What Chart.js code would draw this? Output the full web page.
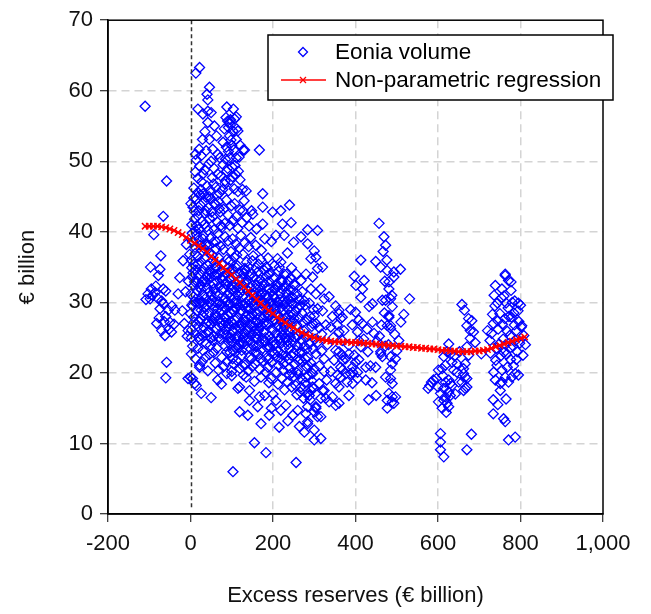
<!DOCTYPE html>
<html><head><meta charset="utf-8">
<script src="https://cdn.jsdelivr.net/npm/chart.js@4"></script>
<style>html,body{margin:0;padding:0;background:#fff}#c{display:block}</style>
</head><body>
<canvas id="c" width="651" height="614"></canvas>
<script>
const xTicks = [-200,0,200,400,600,800,1000];
const yTicks = [0,10,20,30,40,50,60,70];
const seriesNames = ['Eonia volume','Non-parametric regression'];

const leftPoints = [[-110,57.8],[-58,47.2],[-66,42.2],[-89,39.6],[-72,36.6],[-97,35.0],[-74,34.7],[-78,33.8],[-103,31.2],[-86,31.4],[-66,31.9],[-98,30.5],[-30,31.2],[-74,29.1],[-54,28.9],[-38,28.9],[-82,27.0],[-50,27.2],[-70,26.0],[-46,25.8],[-62,25.3],[-58,21.5],[-60,19.3],[-92,31.0],[-80,30.6],[-70,30.2],[-60,31.6],[-108,30.4],[-95,31.9],[-84,32.3],[-66,29.8],[-60,28.0],[-45,29.5],[-76,27.8],[-52,26.2],[-40,26.9],[-64,27.3],[-20,28.8],[-15,27.0],[-8,25.2],[-12,31.5],[-26,33.5],[-5,33.0],[-2,36.8],[-10,38.2],[-18,35.9],[-6,26.0]];

const upperPoints = [[22,63.3],[13,62.5],[46,60.5],[40,59.5],[42,58.7],[18,57.4],[30,56.7],[42,57.1],[50,56.9],[42,55.5],[88,57.7],[104,57.4],[90,55.7],[92,54.8],[103,54.3],[111,53.1],[115,54.3],[131,51.6],[29,53.1],[46,53.1],[63,53.6],[21,51.7],[38,51.5],[54,51.7],[79,52.7],[87,52.0],[95,53.6],[71,50.5],[26,50.8],[95,50.5],[111,50.5],[128,51.6],[167,51.6],[86,56.2],[97,55.9],[98,53.0],[120,52.3],[66,51.0],[12,51.0],[35,54.2],[58,55.0],[82,54.6],[105,51.6],[107,56.0],[111,56.3],[112,54.6],[95,55.5],[100,52.2],[92,51.4],[108,49.4],[116,48.6],[90,49.0],[102,47.8],[84,47.2],[118,50.6]];

const band45 = [[8,46.2],[12,48.5],[18,45.6],[22,49.3],[27,47.1],[31,45.4],[35,48.8],[40,46.5],[44,49.6],[48,45.9],[53,47.7],[57,49.0],[61,46.3],[66,48.2],[70,45.5],[74,47.9],[79,49.5],[83,46.8],[88,48.6],[92,45.8],[97,47.3],[101,49.2],[106,46.1],[110,48.1],[115,45.7],[120,47.4],[126,46.0],[135,45.8],[175,45.4],[14,50.2],[25,46.0],[50,50.0],[85,50.3],[64,45.1],[38,44.9]];

const band40 = [[3,41.0],[6,43.5],[10,41.8],[14,44.6],[17,42.3],[21,40.4],[24,43.8],[28,41.5],[32,44.2],[35,42.6],[39,40.7],[43,43.4],[46,41.9],[50,44.7],[54,42.1],[57,40.3],[61,43.9],[65,41.4],[68,44.3],[72,42.8],[76,40.6],[80,43.2],[83,41.2],[87,44.5],[91,42.4],[95,40.9],[99,43.7],[103,41.6],[107,44.0],[111,42.2],[115,40.5],[120,43.1],[125,41.3],[130,44.4],[136,42.0],[142,40.8],[148,43.0],[127,43.0],[151,42.5],[175,41.1],[175,43.5],[199,42.8],[219,43.0],[240,43.8],[223,41.1],[244,41.3],[284,40.3],[308,40.2],[160,40.4],[1,44.0],[12,40.2]];

const band35 = [[2,36.0],[5,38.6],[8,35.4],[11,37.8],[15,39.6],[18,36.5],[21,38.9],[25,35.8],[28,37.3],[31,39.4],[35,36.2],[38,38.2],[41,35.3],[45,37.0],[48,39.1],[52,36.7],[55,38.5],[59,35.6],[62,37.6],[66,39.8],[69,36.3],[73,38.0],[77,35.5],[80,37.5],[84,39.3],[88,36.1],[91,38.7],[95,35.9],[98,37.2],[102,39.0],[106,36.4],[110,38.3],[114,35.2],[118,37.7],[122,39.5],[127,36.8],[131,38.4],[136,35.7],[141,37.9],[146,39.2],[152,36.6],[158,38.1],[165,35.4],[172,37.4],[180,39.0],[188,36.3],[196,38.6],[207,39.5],[227,39.5],[268,39.3],[284,38.3],[300,37.3],[304,36.4],[292,36.2],[211,36.2],[219,35.7],[203,35.2],[235,37.0],[250,38.5]];

const band30 = [[1,31.2],[4,33.6],[7,30.8],[10,32.9],[13,34.6],[16,31.7],[19,33.9],[22,30.4],[25,32.5],[28,34.3],[31,31.0],[34,33.2],[37,30.6],[40,32.0],[43,34.0],[46,31.5],[49,33.5],[52,30.3],[55,32.7],[58,34.8],[61,31.3],[64,33.0],[67,30.9],[70,32.3],[73,34.4],[76,31.8],[79,33.7],[82,30.5],[85,32.6],[88,34.1],[91,31.1],[94,33.3],[97,30.7],[100,32.4],[103,34.7],[106,31.6],[109,33.8],[112,30.2],[115,32.1],[118,34.2],[121,31.4],[124,33.4],[127,30.8],[130,32.8],[133,34.5],[136,31.9],[139,33.1],[142,30.4],[145,32.2],[148,34.0],[151,31.2],[154,33.6],[157,30.6],[160,32.5],[163,34.3],[166,31.5],[169,33.2],[172,30.3],[175,32.9],[178,34.6],[181,31.0],[184,33.7],[187,30.9],[190,32.0],[193,34.1],[197,31.6],[201,33.4],[205,30.5],[209,32.6],[213,34.4],[217,31.3],[221,33.0],[225,30.2],[229,32.3],[233,34.0],[238,31.8],[243,33.5],[248,30.7],[253,32.4],[258,31.2],[227,34.0],[219,33.1],[251,32.6],[268,33.1],[280,34.0],[296,33.6],[248,31.7],[292,31.9],[304,31.2],[316,31.9],[324,30.5],[320,35.0],[308,34.8],
[3,34.9],[9,30.1],[15,33.0],[21,32.2],[27,30.0],[33,34.9],[39,33.6],[45,30.0],[51,34.1],[57,31.9],[63,34.9],[69,30.1],[75,33.4],[81,31.9],[87,30.1],[93,34.9],[99,31.8],[105,30.0],[111,34.9],[117,33.1],[123,30.0],[129,34.1],[135,33.0],[141,35.0],[147,30.0],[153,31.0],[159,34.9],[165,33.0],[171,31.0],[177,30.0],[183,35.0],[189,34.0],[195,30.1],[203,31.9],[211,30.1],[215,35.0],[223,31.8],[231,30.0],[237,33.0],[245,34.9],[256,34.0],[263,30.4],[271,31.5],[276,30.2]];

const band25 = [[0,28.4],[3,26.1],[6,29.5],[9,27.2],[12,25.5],[15,28.8],[18,26.6],[21,29.9],[24,27.7],[27,25.3],[30,28.1],[33,26.4],[36,29.3],[39,27.0],[42,25.8],[45,28.6],[48,26.9],[51,29.7],[54,27.4],[57,25.2],[60,28.3],[63,26.2],[66,29.1],[69,27.6],[72,25.6],[75,28.9],[78,26.7],[81,29.4],[84,27.1],[87,25.4],[90,28.2],[93,26.5],[96,29.8],[99,27.3],[102,25.9],[105,28.7],[108,26.3],[111,29.2],[114,27.8],[117,25.1],[120,28.5],[123,26.8],[126,29.6],[129,27.5],[132,25.7],[135,28.0],[138,26.0],[141,29.0],[144,27.9],[147,25.3],[150,28.4],[153,26.6],[156,29.5],[159,27.2],[162,25.5],[165,28.8],[168,26.4],[171,29.9],[174,27.7],[177,25.8],[180,28.1],[183,26.9],[186,29.3],[189,27.0],[192,25.2],[195,28.6],[198,26.2],[201,29.7],[204,27.4],[207,25.6],[210,28.3],[213,26.7],[216,29.1],[219,27.6],[222,25.4],[225,28.9],[228,26.5],[231,29.4],[234,27.1],[237,25.9],[240,28.2],[243,26.3],[246,29.8],[249,27.3],[252,25.1],[255,28.7],[258,26.8],[261,29.2],[264,27.8],[267,25.7],[270,28.5],[274,26.0],[278,29.6],[282,27.5],[286,25.3],[290,28.0],[294,26.6],[298,29.0],[308,29.1],[300,28.1],[304,27.0],[312,26.4],[318,25.5],
[2,25.0],[8,27.9],[14,26.9],[20,25.1],[26,28.9],[32,29.9],[38,25.6],[44,27.3],[50,25.0],[56,29.0],[62,27.9],[68,25.0],[74,27.2],[80,25.5],[86,29.1],[92,27.0],[98,25.0],[104,26.9],[110,25.1],[116,29.5],[122,27.1],[128,25.0],[134,29.9],[140,26.2],[146,29.1],[152,27.2],[158,25.1],[164,26.0],[170,28.0],[176,29.1],[182,25.0],[188,28.1],[194,29.9],[200,26.0],[206,28.9],[212,29.9],[218,25.0],[224,27.0],[230,25.1],[236,29.1],[242,25.1],[248,28.2],[254,29.9],[260,25.2],[266,29.6],[272,27.1],[280,25.0],[288,29.9],[296,27.0]];

const band20 = [[22,24.7],[30,23.2],[38,24.1],[46,22.6],[54,24.6],[60,21.4],[64,23.5],[68,20.4],[72,24.8],[76,22.2],[80,20.9],[84,23.8],[88,21.6],[92,24.4],[96,22.9],[100,20.2],[104,23.1],[108,24.9],[112,21.8],[116,23.6],[120,20.6],[124,22.4],[128,24.2],[132,21.1],[136,23.4],[140,20.3],[144,24.6],[148,22.0],[152,23.9],[156,21.3],[160,24.8],[164,22.7],[168,20.5],[172,23.3],[176,21.7],[180,24.3],[184,22.1],[188,20.8],[192,23.7],[196,21.5],[200,24.5],[204,22.8],[208,20.1],[212,23.0],[216,24.7],[220,21.9],[224,20.4],[228,23.6],[232,22.3],[236,24.0],[240,20.7],[244,22.5],[248,24.4],[252,21.2],[256,23.2],[260,20.3],[264,22.9],[268,24.6],[272,21.6],[276,23.8],[280,20.9],[284,22.2],[288,24.1],[292,21.4],[296,23.4],[300,20.6],[304,22.7],[308,24.3],[312,21.0],[318,23.1],[324,20.2],
[94,25.0],[102,22.0],[110,23.6],[118,24.0],[126,21.0],[134,24.9],[142,22.2],[150,20.9],[158,23.0],[166,24.0],[174,24.9],[182,20.1],[190,22.0],[198,23.0],[206,24.1],[214,21.0],[222,22.6],[230,24.8],[238,21.9],[246,20.0],[254,25.0],[262,21.7],[270,23.0],[278,22.0],[286,21.0],[294,20.0],[302,24.8]];

const coreExtra = [[62,30.0],[70,26.6],[78,33.1],[86,27.8],[94,31.4],[102,29.0],[110,32.7],[118,26.5],[126,31.7],[134,27.4],[142,33.8],[150,29.6],[158,32.0],[166,27.1],[174,31.3],[182,29.8],[190,33.0],[198,27.9],[206,31.9],[214,28.0],[222,32.9],[230,27.8],[238,30.5],[65,34.0],[73,29.6],[81,27.9],[89,33.0],[97,28.4],[105,32.1],[113,29.9],[121,26.2],[129,32.3],[137,29.3],[145,26.8],[153,30.2],[161,28.3],[169,32.2],[177,27.0],[185,30.6],[193,28.1],[201,31.0],[209,26.6],[217,30.4],[225,26.1],[233,31.4],[241,27.5],[100,24.5],[120,24.3],[140,25.0],[160,23.7],[180,24.6],[200,23.9],[220,24.2],[240,23.4],
[4,39.8],[9,42.9],[16,40.9],[23,45.2],[30,39.0],[37,43.0],[44,38.1],[51,42.8],[58,44.0],[3,29.6],[8,32.4],[14,30.0],[20,27.4],[26,31.8],[32,28.6],[38,32.9],[44,26.0],[50,31.0],[56,27.7],[60,33.9],[5,23.8],[12,22.0],[18,23.5],[28,21.6],[36,22.2],[42,20.3],[48,23.9],[56,22.9]];

const coreDense = [[84,26.1],[91,29.7],[99,33.4],[107,27.5],[115,31.0],[123,28.9],[131,25.6],[139,31.6],[147,28.0],[155,25.9],[163,30.9],[171,26.7],[179,32.6],[187,28.4],[195,24.8],[203,29.3],[211,32.2],[219,26.4],[227,29.6],[235,24.5],[243,30.1],[251,27.7],[259,23.9],[88,23.0],[104,21.3],[124,23.2],[146,23.4],[170,22.0],[186,23.6],[210,22.3],[226,21.3],[250,22.8],[266,21.9],[282,23.4],[132,34.8],[150,35.9],[170,36.1],[186,34.9],[112,36.7],[96,34.5],
[6,34.2],[18,35.4],[29,33.0],[36,37.5],[47,34.6],[54,36.0],[11,36.9],[24,38.1],[42,40.2],[33,41.0],[20,43.0],[8,44.8],[45,45.0],[56,46.8],[70,43.3],[78,46.0],[18,47.6],[30,48.2],[62,38.6],[74,40.9]];

const band15 = [[66,19.0],[115,17.8],[119,18.0],[135,19.4],[143,17.5],[143,16.1],[163,15.2],[167,16.6],[171,19.4],[195,19.2],[207,16.1],[219,14.7],[231,15.4],[235,18.7],[268,18.0],[292,17.5],[320,17.5],[328,16.4],[284,15.2],[304,15.0],[316,13.8],[2,22.7],[22,21.1],[-6,19.2],[10,18.5],[26,17.1],[50,16.5],[0,19.4],[5,19.2],[14,18.2],[22,20.8],
[250,19.5],[255,18.2],[258,16.9],[262,19.8],[266,17.3],[270,19.1],[274,16.4],[278,18.6],[282,17.0],[286,19.6],[290,16.2],[294,18.9],[298,17.8],[258,20.0],[245,18.0],[240,19.7],[228,17.6],[222,19.2],[212,18.4],[200,17.0],[190,18.6],[180,16.8],[155,18.8],[128,19.7],[100,19.6],[88,19.9],[75,18.4]];

const band10 = [[119,14.5],[139,14.0],[171,12.8],[155,10.1],[183,8.7],[103,6.0],[256,7.3],[191,14.0],[215,12.3],[248,14.0],[260,14.7],[284,13.1],[276,11.6],[300,11.9],[300,10.5],[316,10.7],[280,14.2],[300,14.5],[308,13.8],[284,12.8],[196,15.0],[236,13.2],[264,12.4]];

const midPoints = [[360,28.9],[368,27.9],[360,25.8],[360,23.0],[368,22.5],[368,20.4],[364,19.4],[380,18.7],[393,20.1],[360,15.7],[384,16.8],[413,36.0],[397,33.7],[421,33.1],[401,32.4],[417,31.9],[413,30.7],[408,27.5],[405,25.8],[408,24.6],[413,23.7],[397,22.5],[408,21.9],[393,20.8],[405,20.1],[377,19.9],[369,21.8],[360,28.4],[364,27.7],[348,21.8],[364,20.8],[376,22.0],[388,19.9],[360,18.0],[405,19.2],[393,18.5],[324,17.5],[344,16.6],[352,15.4],[336,15.9],[316,16.4],[304,15.2],[296,18.0],[288,16.8],[312,18.5],[280,19.4],[296,19.9],[352,18.5],[356,19.7],[368,24.6],[384,23.9],[352,23.2],[384,22.7],[400,21.5],[340,26.5],[332,24.0],[344,28.0],[352,29.5],[336,30.8],[372,26.0],[392,26.8],[388,29.0],[400,28.6],[416,27.0],[428,26.2],[420,24.8],[430,23.0],[436,21.0],[440,18.6],[432,16.2],[324,22.0],[330,19.0],[340,20.2],[328,26.8],[320,28.8],[346,25.0],[356,26.8]];

const col470 = [[457,41.2],[469,39.3],[473,38.1],[467,37.2],[449,35.8],[461,35.0],[477,34.5],[493,33.6],[509,34.7],[481,32.9],[481,31.9],[473,30.3],[485,30.5],[465,30.3],[489,29.4],[481,28.1],[477,26.7],[485,26.3],[517,28.3],[531,30.5],[441,29.8],[433,29.4],[441,27.2],[461,23.0],[465,22.3],[485,22.3],[497,22.0],[489,21.3],[449,20.8],[485,20.4],[485,19.2],[473,19.4],[489,18.5],[481,17.1],[489,16.6],[477,16.1],[493,15.7],[477,15.0],[450,16.8],[497,16.6],[489,15.9],[461,22.7],[425,20.8],[425,19.0],[481,27.9],[485,26.7],[493,34.3],[471,33.0],[476,36.0],[488,31.0],[470,28.5],[458,25.2],[463,26.8],[495,25.5],[505,24.6],[480,24.0],[472,23.8],[452,24.5],[445,25.6],[500,23.1],[510,27.2]];

const col640 = [[658,29.7],[664,28.9],[674,27.7],[682,27.4],[670,26.7],[686,25.8],[678,24.9],[670,23.7],[674,22.5],[666,21.3],[662,19.9],[670,19.2],[658,18.7],[666,17.8],[626,24.1],[622,23.0],[630,22.7],[614,22.3],[618,21.1],[634,21.5],[646,21.3],[601,20.4],[638,20.4],[626,19.0],[634,18.2],[618,18.7],[614,17.8],[626,17.3],[606,17.1],[618,16.6],[601,15.9],[622,15.7],[610,15.0],[626,15.2],[584,18.7],[576,17.8],[589,19.0],[606,11.4],[606,10.2],[606,9.1],[614,8.1],[670,9.1],[681,11.3],[646,20.1],[610,20.6],[662,20.6],[666,19.4],[650,18.7],[580,18.2],[600,18.0],[630,18.5],[630,16.8],[614,16.1],[670,18.0],[662,17.5],[640,22.4],[652,23.0],[678,26.0],[690,24.3],[705,22.7],[642,17.0],[620,14.4],[612,19.6],[596,19.2]];

const col770 = [[730,25.6],[726,24.6],[734,27.0],[738,29.5],[742,23.5],[746,26.2],[750,28.4],[754,30.6],[758,24.8],[762,27.7],[766,22.6],[770,29.2],[774,25.3],[778,27.9],[782,23.8],[786,30.2],[790,26.0],[794,28.8],[798,24.2],[802,26.5],[736,31.0],[744,29.9],[752,22.4],[760,30.9],[768,25.9],[776,21.9],[784,28.5],[792,23.0],[800,29.6],[740,21.8],[748,24.1],[756,26.9],[764,24.0],[772,28.0],[780,30.0],[788,24.6],[796,27.3],[806,22.5],[732,28.3],[760,22.9],[776,23.6],[790,21.9],[745,27.4],[765,29.9],[785,26.8],[803,26.7],[795,29.9],[763,34.0],[771,33.1],[739,32.4],[755,31.9],[777,31.7],[763,33.8],[777,32.9],[808,25.3],[812,24.0],[735,20.1],[739,19.0],[755,18.7],[751,17.5],[734,16.2],[734,14.2],[759,13.5],[763,13.1],[771,10.5],[787,10.9],[779,19.4],[787,19.9],[795,19.7],[743,21.1],[755,20.4],[763,19.4],[771,18.7],[751,18.5],[768,20.8],[783,21.0],[727,22.8],[720,26.0],[745,15.5],[765,16.3]];

const regX = [-110,-100,-90,-80,-70,-60,-50,-40,-30,-20,-10,0,10,20,30,40,50,60,70,80,90,100,110,120,130,140,150,160,170,180,190,200,210,220,230,240,250,260,270,280,290,300,310,320,330,340,350,360,370,380,390,400,410,420,430,440,450,460,470,480,490,500,510,520,530,540,550,560,570,580,590,600,610,620,630,640,650,660,670,680,690,700,710,720,730,740,750,760,770,780,790,800,810];
const regY = [40.8,40.8,40.8,40.8,40.7,40.6,40.4,40.2,39.9,39.6,39.2,38.8,38.4,38.0,37.6,37.1,36.5,36.0,35.5,34.9,34.4,33.9,33.3,32.8,32.2,31.6,31.0,30.4,29.9,29.3,28.8,28.4,27.9,27.5,27.1,26.7,26.4,26.0,25.7,25.4,25.2,25.0,24.8,24.7,24.6,24.5,24.4,24.4,24.4,24.4,24.3,24.3,24.3,24.2,24.2,24.1,24.1,24.0,24.0,23.9,23.9,23.8,23.8,23.7,23.7,23.6,23.6,23.5,23.5,23.4,23.4,23.3,23.2,23.2,23.1,23.1,23.0,23.0,23.0,23.0,23.1,23.1,23.2,23.3,23.5,23.7,23.9,24.1,24.3,24.5,24.7,24.9,25.1];

const FONT = "'Liberation Sans', Arial, sans-serif";
const volumePoints = [].concat(leftPoints, upperPoints, band45, band40, band35, band30, band25, band20, coreExtra, coreDense, band15, band10, midPoints, col470, col640, col770).map(p => ({x: p[0], y: p[1]}));
const regPoints = regX.map((x, i) => ({x: x, y: regY[i]}));

const zeroLinePlugin = {
  id: 'zeroLine',
  beforeDatasetsDraw(chart) {},
  afterDatasetsDraw(chart) {
    const ctx = chart.ctx, a = chart.chartArea, xs = chart.scales.x;
    const px = Math.round(xs.getPixelForValue(0)) + 0.5;
    ctx.save();
    ctx.strokeStyle = '#333333'; ctx.lineWidth = 1.5; ctx.setLineDash([4, 3]);
    ctx.beginPath(); ctx.moveTo(px, a.top); ctx.lineTo(px, a.bottom - 4); ctx.stroke();
    ctx.restore();
  }
};

const framePlugin = {
  id: 'frameAndLegend',
  afterDraw(chart) {
    const ctx = chart.ctx, a = chart.chartArea;
    ctx.save();
    ctx.strokeStyle = '#000'; ctx.lineWidth = 1.5; ctx.setLineDash([]);
    ctx.strokeRect(a.left, a.top, a.right - a.left, a.bottom - a.top);
    const bx = 268, by = 35, bw = 345, bh = 65;
    ctx.fillStyle = '#fff'; ctx.fillRect(bx, by, bw, bh);
    ctx.strokeRect(bx, by, bw, bh);
    ctx.strokeStyle = '#0000ff'; ctx.lineWidth = 1.3;
    ctx.beginPath(); ctx.moveTo(303, 47.5); ctx.lineTo(307.5, 52); ctx.lineTo(303, 56.5); ctx.lineTo(298.5, 52); ctx.closePath(); ctx.stroke();
    ctx.strokeStyle = '#ff0000'; ctx.lineWidth = 1.5;
    ctx.beginPath(); ctx.moveTo(281, 80); ctx.lineTo(326, 80); ctx.stroke();
    ctx.lineWidth = 1.3;
    ctx.beginPath(); ctx.moveTo(300, 77); ctx.lineTo(306, 83); ctx.moveTo(306, 77); ctx.lineTo(300, 83); ctx.stroke();
    ctx.fillStyle = '#000'; ctx.font = '22.5px ' + FONT; ctx.textBaseline = 'middle'; ctx.textAlign = 'left';
    ctx.fillText(seriesNames[0], 335, 53);
    ctx.fillText(seriesNames[1], 335, 81);
    ctx.restore();
  }
};

new Chart(document.getElementById('c'), {
  type: 'scatter',
  data: {
    datasets: [
      { label: seriesNames[0], data: volumePoints, order: 1, pointStyle: 'rectRot', pointRadius: 5, pointBorderWidth: 1.3, borderColor: '#0000ff', backgroundColor: 'rgba(0,0,0,0)', pointBackgroundColor: 'rgba(0,0,0,0)', pointBorderColor: '#0000ff' },
      { label: seriesNames[1], data: regPoints, order: 0, showLine: true, borderColor: '#ff0000', borderWidth: 2, pointStyle: 'crossRot', pointRadius: 4.5, pointBorderWidth: 1.5, pointBorderColor: '#ff0000', backgroundColor: 'rgba(0,0,0,0)' }
    ]
  },
  options: {
    responsive: false, animation: false, devicePixelRatio: 1, events: [],
    layout: { padding: { top: 19, right: 48, bottom: 0, left: 0 } },
    plugins: { legend: { display: false }, tooltip: { enabled: false } },
    scales: {
      x: {
        type: 'linear', min: -200, max: 1000,
        afterBuildTicks(s) { s.ticks = xTicks.map(v => ({value: v})); },
        afterFit(s) { s.height = 100; },
        ticks: { font: { family: FONT, size: 22 }, color: '#111', padding: 9, maxRotation: 0, callback: v => v.toLocaleString('en-US') },
        grid: {
          color: c => (c.tick && (c.tick.value === -200 || c.tick.value === 1000 || c.tick.value === 0)) ? 'rgba(0,0,0,0)' : '#d4d4d4',
          lineWidth: 1.5, tickColor: '#000', tickLength: 8, tickWidth: 1
        },
        border: { display: true, color: '#000', width: 1.5, dash: [8, 5] },
        title: { display: true, text: 'Excess reserves (€ billion)', font: { family: FONT, size: 22 }, color: '#111', padding: { top: 0, bottom: 5 } }
      },
      y: {
        type: 'linear', min: 0, max: 70,
        afterBuildTicks(s) { s.ticks = yTicks.map(v => ({value: v})); },
        afterFit(s) { s.width = 108; },
        ticks: { font: { family: FONT, size: 22 }, color: '#111', padding: 7 },
        grid: {
          color: c => (c.tick && (c.tick.value === 0 || c.tick.value === 70)) ? 'rgba(0,0,0,0)' : '#d4d4d4',
          lineWidth: 1.5, tickColor: '#000', tickLength: 8, tickWidth: 1
        },
        border: { display: true, color: '#000', width: 1.5, dash: [8, 5] },
        title: { display: true, text: '€ billion', font: { family: FONT, size: 22 }, color: '#111', padding: { top: 15, bottom: 0 } }
      }
    }
  },
  plugins: [zeroLinePlugin, framePlugin]
});
</script>
</body></html>
